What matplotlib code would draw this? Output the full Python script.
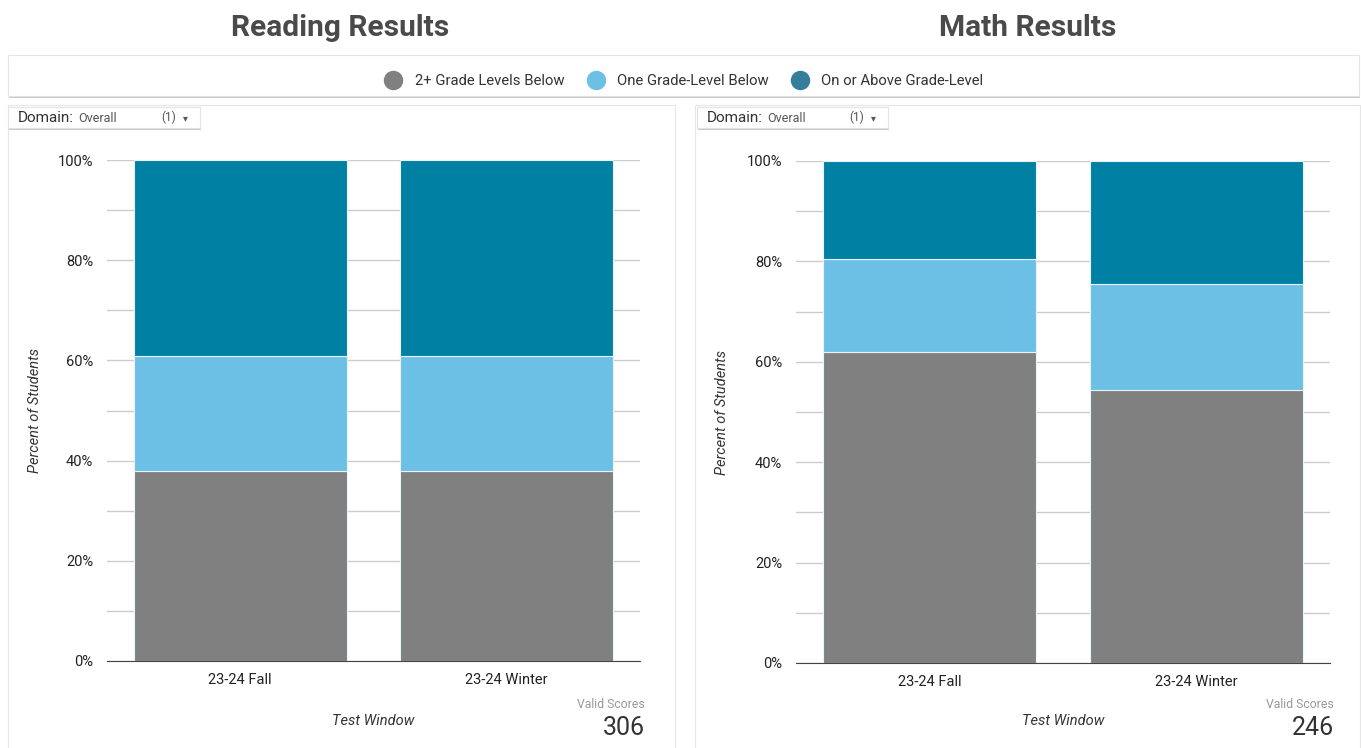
#! /usr/bin/env python3
import matplotlib
matplotlib.use('Agg')
import matplotlib.pyplot as plt
from matplotlib.patches import Rectangle
from matplotlib.lines import Line2D

plt.rcParams['font.family'] = ['Roboto', 'DejaVu Sans']

# data (percent of students)
windows = ['23-24 Fall', '23-24 Winter']
series = ['2+ Grade Levels Below', 'One Grade-Level Below', 'On or Above Grade-Level']
reading_two_below = [37.9, 37.9]
reading_one_below = [23.0, 23.0]
reading_on_above = [39.1, 39.1]
math_two_below = [61.9, 54.3]
math_one_below = [18.6, 21.2]
math_on_above = [19.5, 24.5]
reading_valid = 306
math_valid = 246

colors = ['#808080', '#6dc0e5', '#0080a3']
legend_colors = ['#808080', '#6dc0e5', '#367d9c']

W, H = 1361, 748


def fx(x):
    return x / W


def fy(y):
    return 1 - y / H


fig = plt.figure(figsize=(W / 100, H / 100), dpi=100)
fig.patch.set_facecolor('white')


def card(x0, y0, x1, y1, shadow=True, edge='#e3e3e3', z=-5):
    if shadow:
        fig.patches.append(Rectangle((fx(x0 + 1), fy(y1 + 2)), (x1 - x0) / W, (y1 - y0) / H,
                                     transform=fig.transFigure, facecolor='#c8c8c8',
                                     edgecolor='none', zorder=z))
    fig.patches.append(Rectangle((fx(x0), fy(y1)), (x1 - x0) / W, (y1 - y0) / H,
                                 transform=fig.transFigure, facecolor='white',
                                 edgecolor=edge, linewidth=0.8, zorder=z + 0.5))


# titles
fig.text(fx(340), fy(28), 'Reading Results', ha='center', va='center',
         fontsize=21.5, fontweight='bold', color='#4a4a4a')
fig.text(fx(1028), fy(28), 'Math Results', ha='center', va='center',
         fontsize=21.5, fontweight='bold', color='#4a4a4a')

# legend box
card(8, 55, 1359, 96)
handles = [Line2D([], [], marker='o', linestyle='none', markersize=13,
                  markerfacecolor=c, markeredgecolor=c) for c in legend_colors]
leg = fig.legend(handles, series, loc='center', bbox_to_anchor=(fx(681), fy(81)), ncol=3,
                 frameon=False, fontsize=10.7, handletextpad=0.45, columnspacing=1.1,
                 labelcolor='#333333')

# panel cards
card(8, 105, 675, 760, shadow=True, edge='#e6e6e6', z=-10)
card(695, 105, 1360, 760, shadow=True, edge='#e6e6e6', z=-10)


def dropdown(x0, x1):
    card(x0, 107, x1, 128, z=-3)
    fig.text(fx(x0 + 10), fy(117.5), 'Domain:', ha='left', va='center',
             fontsize=11, color='#333333', zorder=3)
    fig.text(fx(x0 + 70), fy(118), 'Overall', ha='left', va='center',
             fontsize=9, color='#555555', zorder=3)
    fig.text(fx(x1 - 39), fy(117.5), '(1)', ha='left', va='center',
             fontsize=8.5, color='#555555', zorder=3)
    fig.text(fx(x1 - 17), fy(118), '\u25be', ha='left', va='center',
             fontsize=7, color='#555555', zorder=3, family=['DejaVu Sans'])


dropdown(8, 200)
dropdown(697, 888)


def panel(rect, two_below, one_below, on_above, valid, ylab_x, xlab_y, vx):
    ax = fig.add_axes(rect)
    ax.set_facecolor('none')
    x = range(len(windows))
    bottom2 = [a + b for a, b in zip(two_below, one_below)]
    ax.bar(x, two_below, width=0.8, color=colors[0], edgecolor='#e8f4fa',
           linewidth=0.8, zorder=3)
    ax.bar(x, one_below, width=0.8, bottom=two_below, color=colors[1],
           edgecolor='#e8f4fa', linewidth=0.8, zorder=3)
    ax.bar(x, on_above, width=0.8, bottom=bottom2, color=colors[2],
           edgecolor='#e8f4fa', linewidth=0.8, zorder=3)
    ax.set_xlim(-0.5, len(windows) - 0.5)
    ax.set_ylim(0, 100)
    ax.set_xticks(list(x))
    ax.set_xticklabels(windows)
    ax.set_yticks(range(0, 101, 20))
    ax.set_yticklabels(['%d%%' % v for v in range(0, 101, 20)])
    ax.set_yticks(range(10, 100, 20), minor=True)
    ax.grid(axis='y', which='both', color='#cccccc', linewidth=1, zorder=0)
    for s in ['left', 'right', 'top']:
        ax.spines[s].set_visible(False)
    ax.spines['bottom'].set_color('#444444')
    ax.spines['bottom'].set_zorder(4)
    ax.tick_params(axis='both', which='both', length=0, labelsize=10.5,
                   colors='#222222')
    ax.tick_params(axis='y', pad=10)
    ax.tick_params(axis='x', pad=9)
    ax.set_ylabel('Percent of Students', fontsize=10.5, style='italic', color='#333333')
    ax.yaxis.set_label_coords(ylab_x, 0.5)
    ax.set_xlabel('Test Window', fontsize=10.5, style='italic', color='#333333')
    ax.xaxis.set_label_coords(0.5, xlab_y)
    fig.text(fx(vx), fy(705), 'Valid Scores', ha='right', va='center',
             fontsize=8.8, color='#999999')
    fig.text(fx(vx), fy(728), str(valid), ha='right', va='center',
             fontsize=18, color='#333333')
    return ax


panel([fx(107), fy(661), (640 - 107) / W, (661 - 160) / H],
      reading_two_below, reading_one_below, reading_on_above, reading_valid,
      -0.122, -0.106, 645)
panel([fx(796), fy(663), (1330 - 796) / W, (663 - 161) / H],
      math_two_below, math_one_below, math_on_above, math_valid,
      -0.125, -0.102, 1334)

plt.savefig('out.png', dpi=100)
